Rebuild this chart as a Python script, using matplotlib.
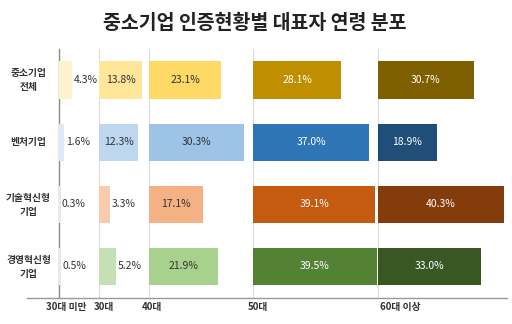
import matplotlib
matplotlib.use("Agg")
import matplotlib.pyplot as plt

plt.rcParams['font.family'] = ['Noto Sans CJK KR', 'DejaVu Sans']

# Data: share of company representatives by age group (%)
categories = ['중소기업\n전체', '벤처기업', '기술혁신형\n기업', '경영혁신형\n기업']
age_groups = ['30대 미만', '30대', '40대', '50대', '60대 이상']
under30 = [4.3, 1.6, 0.3, 0.5]
age30s = [13.8, 12.3, 3.3, 5.2]
age40s = [23.1, 30.3, 17.1, 21.9]
age50s = [28.1, 37.0, 39.1, 39.5]
age60plus = [30.7, 18.9, 40.3, 33.0]
series = [under30, age30s, age40s, age50s, age60plus]

# Layout: where each age-group column starts along the x axis
col_start = [0, 13.0, 29.0, 62.3, 102.2]
label_pos = [2.3, 14.5, 29.9, 63.9, 109.4]

# Colour per (category row, age column)
palette = [
    ['#FFF2CC', '#FFE699', '#FFD966', '#BF8F00', '#7F6000'],
    ['#DEEBF7', '#BDD7EE', '#9DC3E6', '#2E75B6', '#1F4E79'],
    ['#FBE5D6', '#F8CBAD', '#F4B183', '#C55A11', '#843C0C'],
    ['#E2F0D9', '#C5E0B4', '#A9D18E', '#548235', '#385723'],
]
text_dark = [True, True, True, False, False]

fig = plt.figure(figsize=(5.12, 3.24), dpi=100)
ax = fig.add_axes([27 / 512, 1 - 297.5 / 324, 480 / 512, (297.5 - 49) / 324])

ax.set_xlim(-10.2, 143.6)
ax.set_ylim(3.5, -0.5)

# Column separators
for j, x0 in enumerate(col_start):
    ax.axvline(x0, color='#8c8c8c' if j == 0 else '#dcdcdc',
               lw=1.0 if j == 0 else 0.8, zorder=1)

ypos = list(range(len(categories)))
for j, vals in enumerate(series):
    for i, v in enumerate(vals):
        ax.barh(ypos[i], v, left=col_start[j], height=0.6,
                color=palette[i][j], zorder=2, linewidth=0)
        color = '#333333' if text_dark[j] else 'white'
        if v < 6:
            ax.text(col_start[j] + v + 0.6, ypos[i], f'{v:.1f}%',
                    ha='left', va='center', fontsize=7.5, color=color, zorder=3)
        else:
            ax.text(col_start[j] + v / 2, ypos[i], f'{v:.1f}%',
                    ha='center', va='center', fontsize=7.5, color=color, zorder=3)

for s in ['top', 'right', 'left']:
    ax.spines[s].set_visible(False)
ax.spines['bottom'].set_color('#999999')
ax.spines['bottom'].set_linewidth(1.0)

ax.set_yticks([])
ax.set_xticks(label_pos)
ax.set_xticklabels(age_groups, fontsize=7, fontweight='bold', color='#333333')
ax.tick_params(axis='x', length=0, pad=3)

# Row labels
for i, cat in enumerate(categories):
    fig.text(28.5 / 512, 1 - (80 + 62.3 * i) / 324, cat, ha='center', va='center',
             fontsize=7, fontweight='bold', color='#333333', linespacing=1.5,
             multialignment='center')

fig.text(255 / 512, 1 - 23 / 324, '중소기업 인증현황별 대표자 연령 분포',
         ha='center', va='center', fontsize=14, fontweight='bold', color='#222222')

fig.savefig('out.png', dpi=100)
